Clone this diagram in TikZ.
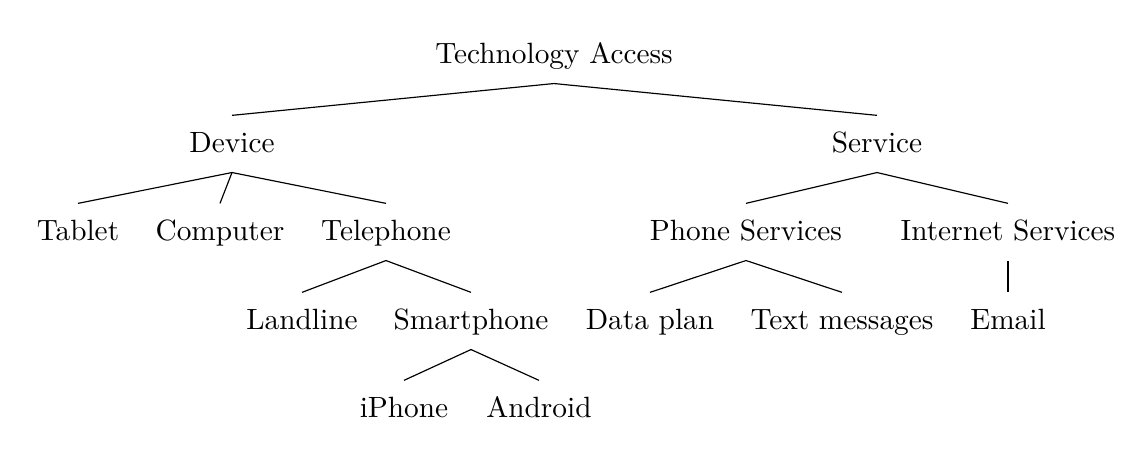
\documentclass[tikz,border=0pt]{standalone}
\begin{document}
\begin{tikzpicture}[x=0.341pt,y=-0.341pt,
  lbl/.style={anchor=base,text height=8.5pt,text depth=3pt,inner sep=3.8pt,font=\fontsize{10}{12}\selectfont},
  edge/.style={draw=black,line width=0.4pt}]
\useasboundingbox (0,0) rectangle (1148,457);
\node[lbl] (root) at (554,63) {Technology Access};
\node[lbl] (dev) at (232,152) {Device};
\node[lbl] (ser) at (877,152) {Service};
\node[lbl] (tab) at (78,240) {Tablet};
\node[lbl] (com) at (220,240) {Computer};
\node[lbl] (tel) at (386,240) {Telephone};
\node[lbl] (phs) at (746,240) {Phone Services};
\node[lbl] (ins) at (1008,240) {Internet Services};
\node[lbl] (lan) at (302,329) {Landline};
\node[lbl] (sma) at (471,329) {Smartphone};
\node[lbl] (dat) at (650,329) {Data plan};
\node[lbl] (txt) at (842,329) {Text messages};
\node[lbl] (ema) at (1008,329) {Email};
\node[lbl] (iph) at (404,417) {iPhone};
\node[lbl] (and) at (539,417) {Android};
\draw[edge] (root.south) -- (dev.north);
\draw[edge] (root.south) -- (ser.north);
\draw[edge] (dev.south) -- (tab.north);
\draw[edge] (dev.south) -- (com.north);
\draw[edge] (dev.south) -- (tel.north);
\draw[edge] (ser.south) -- (phs.north);
\draw[edge] (ser.south) -- (ins.north);
\draw[edge] (tel.south) -- (lan.north);
\draw[edge] (tel.south) -- (sma.north);
\draw[edge] (phs.south) -- (dat.north);
\draw[edge] (phs.south) -- (txt.north);
\draw[edge] (ins.south) -- (ema.north);
\draw[edge] (sma.south) -- (iph.north);
\draw[edge] (sma.south) -- (and.north);
\end{tikzpicture}
\end{document}
